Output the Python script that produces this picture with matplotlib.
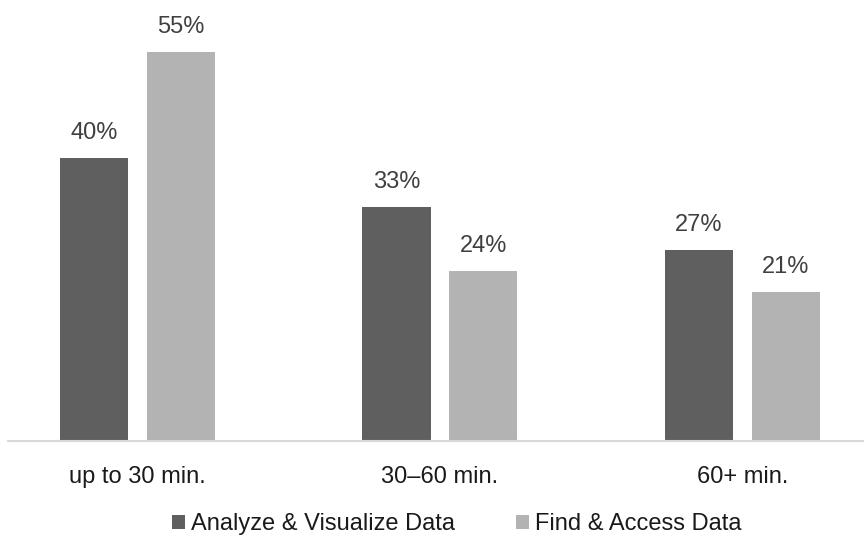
import matplotlib
matplotlib.use("Agg")
import matplotlib.pyplot as plt
import numpy as np

# data
categories = ["up to 30 min.", "30\u201360 min.", "60+ min."]
series_names = ["Analyze & Visualize Data", "Find & Access Data"]
analyze = [40, 33, 27]
find = [55, 24, 21]
colors = ["#5f5f5f", "#b3b3b3"]

plt.rcParams['font.family'] = ['Liberation Sans', 'DejaVu Sans']

fig = plt.figure(figsize=(8.64, 5.39), dpi=100)
ax = fig.add_axes([8 / 864, 98 / 539, 856 / 864, 441 / 539])

x = np.arange(len(categories))
width = 0.225
off = 0.1435
for vals, name, col, d in zip([analyze, find], series_names, colors, [-off, off]):
    bars = ax.bar(x + d, vals, width, color=col, label=name)
    for b, v in zip(bars, vals):
        ax.text(b.get_x() + b.get_width() / 2, v + 2.0, f"{v}%", ha='center', va='bottom',
                fontsize=17, color='#404040')

ax.set_xlim(-0.428, 2.402)
ax.set_ylim(0, 62.3)
ax.set_yticks([])
ax.set_xticks(x)
ax.set_xticklabels(categories, fontsize=17, color='#1a1a1a')
ax.tick_params(axis='x', length=0, pad=18)
for s in ['top', 'right', 'left']:
    ax.spines[s].set_visible(False)
ax.spines['bottom'].set_color('#d9d9d9')
ax.spines['bottom'].set_linewidth(1.5)

fig.legend(loc='center', bbox_to_anchor=(457 / 864, 1 - 524 / 539), ncol=2, frameon=False,
           fontsize=17, handlelength=0.55, handleheight=0.55, handletextpad=0.25,
           columnspacing=2.6, labelcolor='#1a1a1a')

fig.savefig("out.png", dpi=100)
